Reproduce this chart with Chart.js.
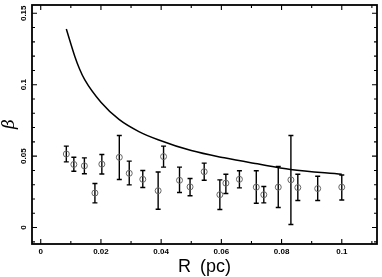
<!DOCTYPE html>
<html>
<head>
<meta charset="utf-8">
<script src="https://cdn.jsdelivr.net/npm/chart.js@4"></script>
<style>
  html, body { margin: 0; padding: 0; background: #fff; }
  #wrap { width: 382px; height: 277px; }
</style>
</head>
<body>
<div id="wrap"><canvas id="betaChart" width="382" height="277"></canvas></div>
<script>
"use strict";

// measured points (R in pc, beta) with error bar ends
const rVals = [0.0085, 0.0110, 0.0145, 0.0180, 0.0203, 0.0261, 0.0294, 0.0339, 0.0390, 0.0408, 0.0461, 0.0496, 0.0543, 0.0595, 0.0615, 0.0660, 0.0716, 0.0741, 0.0789, 0.0831, 0.0854, 0.0920, 0.1000];
const betaVals = [0.0515, 0.0442, 0.0432, 0.0242, 0.0444, 0.0492, 0.0380, 0.0338, 0.0258, 0.0497, 0.0331, 0.0285, 0.0391, 0.0230, 0.0311, 0.0338, 0.0283, 0.0230, 0.0283, 0.0334, 0.0280, 0.0273, 0.0283];
const errHigh = [0.0570, 0.0492, 0.0488, 0.0308, 0.0511, 0.0644, 0.0465, 0.0400, 0.0389, 0.0570, 0.0423, 0.0343, 0.0451, 0.0334, 0.0373, 0.0398, 0.0398, 0.0287, 0.0428, 0.0644, 0.0373, 0.0359, 0.0368];
const errLow = [0.0460, 0.0394, 0.0377, 0.0173, 0.0375, 0.0336, 0.0299, 0.0280, 0.0128, 0.0423, 0.0246, 0.0223, 0.0331, 0.0126, 0.0239, 0.0278, 0.0170, 0.0173, 0.0140, 0.0021, 0.0189, 0.0189, 0.0193];

// model curve
const curveR = [0.0085, 0.0113, 0.0129, 0.0146, 0.0200, 0.0260, 0.0326, 0.0390, 0.0500, 0.0610, 0.0720, 0.0830, 0.1000];
const curveBeta = [0.139, 0.120, 0.111, 0.1035, 0.0877, 0.0757, 0.0672, 0.0615, 0.0539, 0.0488, 0.0446, 0.0407, 0.0373];

// tick labels
const xTickVals = [0, 0.02, 0.04, 0.06, 0.08, 0.1];
const xTickLabels = ["0", "0.02", "0.04", "0.06", "0.08", "0.1"];
const yTickVals = [0, 0.05, 0.1, 0.15];
const yTickLabels = ["0", "0.05", "0.1", "0.15"];

const tickFont = "bold 8px 'Liberation Sans', Arial, sans-serif";

// error bars under the circles
const errorBarPlugin = {
  id: "errorBars",
  beforeDatasetsDraw(chart) {
    const { ctx, scales: { x, y } } = chart;
    ctx.save();
    ctx.strokeStyle = "#000";
    ctx.lineWidth = 1.4;
    for (let i = 0; i < rVals.length; i++) {
      const px = x.getPixelForValue(rVals[i]);
      const top = y.getPixelForValue(errHigh[i]);
      const bot = y.getPixelForValue(errLow[i]);
      ctx.beginPath();
      ctx.moveTo(px, top);
      ctx.lineTo(px, bot);
      ctx.moveTo(px - 2.5, top);
      ctx.lineTo(px + 2.5, top);
      ctx.moveTo(px - 2.5, bot);
      ctx.lineTo(px + 2.5, bot);
      ctx.stroke();
    }
    ctx.restore();
  },
};

// frame, inward ticks, labels and titles
const framePlugin = {
  id: "frame",
  afterDraw(chart) {
    const { ctx, chartArea: a, scales: { x, y } } = chart;
    ctx.save();
    ctx.strokeStyle = "#000";
    ctx.lineWidth = 1.8;
    ctx.strokeRect(a.left, a.top, a.right - a.left, a.bottom - a.top);

    ctx.lineWidth = 1.1;
    ctx.beginPath();
    for (let k = 0; k <= 11; k++) {
      const v = k / 100;
      const len = k % 2 === 0 ? 5 : 3;
      const px = x.getPixelForValue(v);
      ctx.moveTo(px, a.bottom);
      ctx.lineTo(px, a.bottom - len);
      ctx.moveTo(px, a.top);
      ctx.lineTo(px, a.top + len);
    }
    for (let k = -1; k <= 15; k++) {
      const v = k / 100;
      const len = k % 5 === 0 ? 5 : 3;
      const py = y.getPixelForValue(v);
      ctx.moveTo(a.left, py);
      ctx.lineTo(a.left + len, py);
      ctx.moveTo(a.right, py);
      ctx.lineTo(a.right - len, py);
    }
    ctx.stroke();

    ctx.fillStyle = "#000";
    ctx.font = tickFont;
    ctx.textAlign = "center";
    ctx.textBaseline = "middle";
    xTickVals.forEach((v, i) => {
      ctx.fillText(xTickLabels[i], x.getPixelForValue(v), a.bottom + 7.5);
    });
    yTickVals.forEach((v, i) => {
      ctx.save();
      ctx.translate(a.left - 8, y.getPixelForValue(v));
      ctx.rotate(-Math.PI / 2);
      ctx.fillText(yTickLabels[i], 0, 0);
      ctx.restore();
    });

    // x title, wide gap as in the original
    ctx.font = "18px 'Liberation Sans', Arial, sans-serif";
    ctx.textBaseline = "alphabetic";
    ctx.textAlign = "left";
    ctx.fillText("R", 178, 272);
    ctx.fillText("(pc)", 200, 272);

    ctx.save();
    ctx.translate(10, 124);
    ctx.rotate(-Math.PI / 2);
    ctx.textAlign = "center";
    ctx.textBaseline = "middle";
    ctx.font = "italic 17px 'DejaVu Serif', serif";
    ctx.fillText("β", 0, 0);
    ctx.restore();
    ctx.restore();
  },
};

const ctx = document.getElementById("betaChart").getContext("2d");
new Chart(ctx, {
  type: "scatter",
  data: {
    datasets: [
      {
        label: "curve",
        data: curveR.map((r, i) => ({ x: r, y: curveBeta[i] })),
        showLine: true,
        borderColor: "#000",
        borderWidth: 1.5,
        pointRadius: 0,
        cubicInterpolationMode: "monotone",
      },
      {
        label: "beta",
        data: rVals.map((r, i) => ({ x: r, y: betaVals[i] })),
        showLine: false,
        pointStyle: "circle",
        pointRadius: 3,
        borderColor: "#666",
        borderWidth: 1,
        backgroundColor: "rgba(0,0,0,0)",
      },
    ],
  },
  options: {
    responsive: false,
    animation: false,
    devicePixelRatio: 1,
    layout: { padding: { left: 32, top: 1.5, right: 1.5, bottom: 33 } },
    plugins: { legend: { display: false }, tooltip: { enabled: false } },
    scales: {
      x: { type: "linear", display: false, min: -0.0029, max: 0.1117 },
      y: { type: "linear", display: false, min: -0.0115, max: 0.1558 },
    },
  },
  plugins: [errorBarPlugin, framePlugin],
});
</script>
</body>
</html>
